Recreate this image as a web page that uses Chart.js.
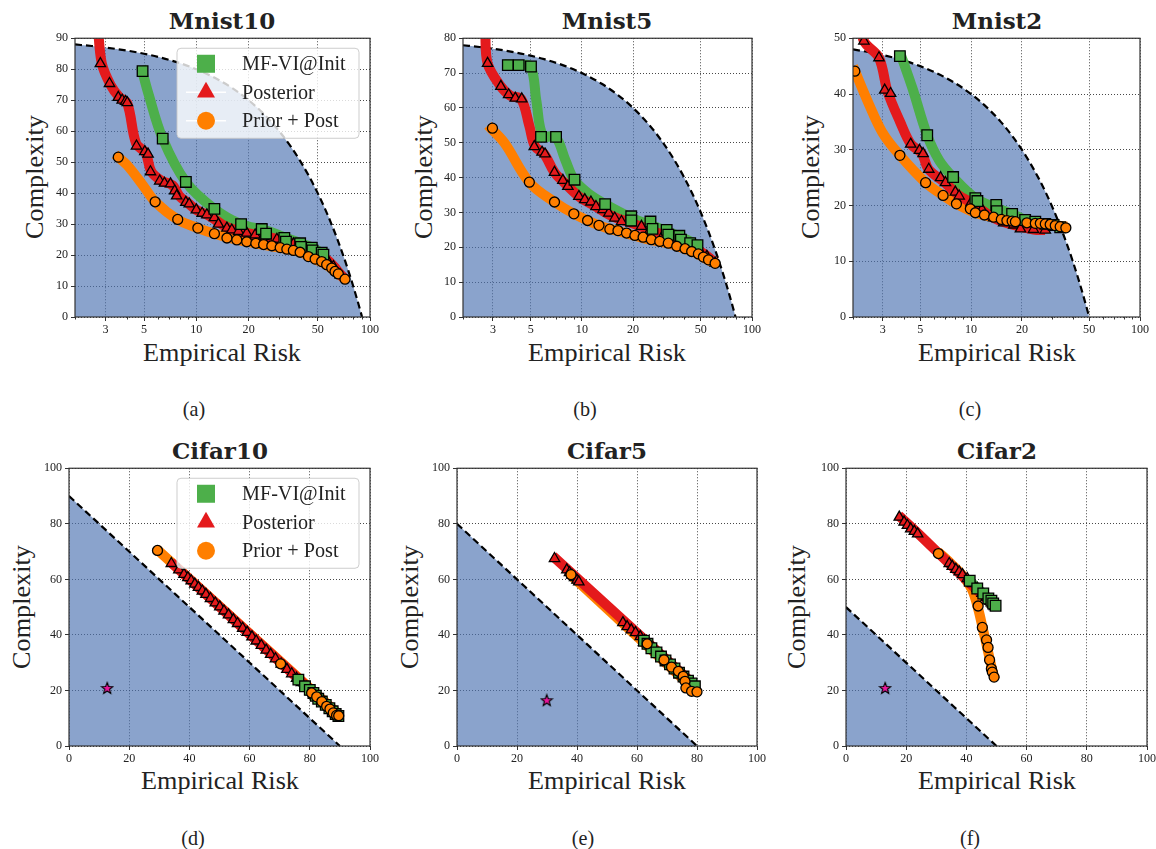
<!DOCTYPE html>
<html>
<head>
<meta charset="utf-8">
<script src="https://cdn.jsdelivr.net/npm/chart.js@4"></script>
<style>
  body { margin: 0; background: #fff; width: 1156px; height: 849px; position: relative; overflow: hidden;
         font-family: "Liberation Serif", "Times New Roman", Tinos, "Nimbus Roman", "DejaVu Serif", serif; color: #222; }
  canvas { position: absolute; }
  .t { position: absolute; white-space: nowrap; line-height: 1; transform: translate(-50%, -50%); }
  .title { font-family: "DejaVu Serif", serif; font-weight: bold; font-size: 23px; }
  .xl { font-size: 26px; }
  .yl { font-size: 26px; transform: translate(-50%, -50%) rotate(-90deg); }
  .cap { font-size: 20px; }
</style>
</head>
<body>
<div class="t title" style="left:222px;top:20px">Mnist10</div>
<div class="t title" style="left:607px;top:20px">Mnist5</div>
<div class="t title" style="left:997px;top:20px">Mnist2</div>
<div class="t title" style="left:220px;top:450px">Cifar10</div>
<div class="t title" style="left:607px;top:450px">Cifar5</div>
<div class="t title" style="left:997px;top:450px">Cifar2</div>

<div class="t xl" style="left:222px;top:353px">Empirical Risk</div>
<div class="t xl" style="left:607px;top:353px">Empirical Risk</div>
<div class="t xl" style="left:997px;top:353px">Empirical Risk</div>
<div class="t xl" style="left:220px;top:781px">Empirical Risk</div>
<div class="t xl" style="left:607px;top:781px">Empirical Risk</div>
<div class="t xl" style="left:997px;top:781px">Empirical Risk</div>

<div class="t yl" style="left:35px;top:177px">Complexity</div>
<div class="t yl" style="left:424px;top:177px">Complexity</div>
<div class="t yl" style="left:811px;top:177px">Complexity</div>
<div class="t yl" style="left:22px;top:607px">Complexity</div>
<div class="t yl" style="left:410px;top:607px">Complexity</div>
<div class="t yl" style="left:797px;top:607px">Complexity</div>

<div class="t cap" style="left:194px;top:409px">(a)</div>
<div class="t cap" style="left:585px;top:409px">(b)</div>
<div class="t cap" style="left:970px;top:409px">(c)</div>
<div class="t cap" style="left:193px;top:838px">(d)</div>
<div class="t cap" style="left:583px;top:838px">(e)</div>
<div class="t cap" style="left:970px;top:838px">(f)</div>

<script>
// ---- data: [empirical risk, complexity] ----
const logTicks = [3, 5, 10, 20, 50, 100];
const logMinorTicks = [2, 4, 6, 7, 8, 9, 30, 40, 60, 70, 80, 90];
const linTicks = [0, 20, 40, 60, 80, 100];
const legendLabels = ["MF-VI@Init", "Posterior", "Prior + Post"];

// Mnist10
const mnist10Frontier = [[2,88],[2.5,87.5],[3,87],[4,86],[5,85],[6,84],[8,82],[10,80],[13,77],[16,74],[20,70],[25,65],[30,60],[35,55],[40,50],[45,45],[50,40],[55,35],[60,30],[65,25],[70,20],[75,15],[80,10],[84,6],[87,3],[90,0]];
const mnist10Init = [[4.9,79.4],[6.4,57.6],[8.7,43.6],[12.7,34.9],[18.1,30.0],[23.8,28.4],[25.2,26.9],[32.1,25.5],[32.8,24.3],[39.6,23.8],[40.0,22.6],[46.2,22.4],[46.6,21.5],[52.7,20.8],[53.9,20.1]];
const mnist10Post = [[2.8,81.8],[3.16,75.4],[3.55,70.9],[3.74,70.0],[3.91,69.6],[4.0,69.2],[4.52,55.2],[5.05,53.4],[5.27,52.6],[5.44,46.9],[6.15,43.9],[6.55,43.2],[7.1,43.0],[7.5,40.7],[7.7,39.1],[8.7,37.0],[9.1,36.5],[10,34.6],[10.8,33.5],[11.5,33.0],[12.7,32.1],[13.4,30.0],[15.0,28.7],[16.0,28.1],[17.5,27.6],[19.5,27.1],[21.8,26.5],[24.4,26.0],[29.1,25.1],[36.2,23.6],[47.2,21.2],[56.3,18.7],[61.6,16.3],[67.3,13.6]];
const mnist10Prior = [[3.55,51.6],[5.79,37.2],[7.81,31.5],[10.2,28.7],[12.7,26.9],[15.0,25.5],[17.1,24.9],[19.5,24.3],[22.0,23.8],[24.4,23.4],[27.2,23.0],[30.4,22.4],[33.2,21.9],[36.2,21.5],[39.6,20.9],[44.2,19.5],[48.3,18.7],[52.7,17.9],[56.3,16.9],[60.2,15.8],[62.9,14.7],[65.7,13.9],[71.8,12.2]];
const mnist10InitBand = [[4.8,81],[5.3,72],[6.4,57.6],[8.7,43.6],[12.7,34.9],[18,30],[25,28],[32,25.8],[40,23.8],[47,22.3],[54,20.3]];
const mnist10PostBand = [[2.7,95],[2.85,82],[3.2,75],[3.6,71],[4.0,69],[4.5,56],[5.1,53],[5.5,47],[6.3,44],[7.3,42.5],[8,39],[9,36.7],[10,34.6],[12,32.5],[15,29],[20,27],[25,26],[30,25],[37,23.5],[47,21.2],[56,18.7],[62,16.3],[68,13.6],[71,12.5]];
const mnist10PriorBand = [[3.4,52.5],[4,49],[5,42],[5.8,37.2],[7.8,31.5],[10.2,28.7],[12.7,26.9],[17,25],[22,23.8],[30,22.4],[40,20.9],[48,18.7],[56,16.9],[63,14.7],[72,12.2]];

// Mnist5
const mnist5Frontier = [[2,78],[2.5,77.5],[3,77],[4,76],[5,75],[6,74],[8,72],[10,70],[13,67],[16,64],[20,60],[25,55],[30,50],[35,45],[40,40],[45,35],[50,30],[55,25],[60,20],[65,15],[70,10],[74,6],[77,3],[80,0]];
const mnist5Init = [[3.67,72.3],[4.25,72.3],[5.02,71.9],[5.75,51.7],[7.05,51.7],[9.05,39.4],[13.7,32.4],[19.5,28.9],[19.5,27.7],[25.3,27.4],[26.0,25.3],[31.5,25.0],[32.2,23.6],[37.4,23.3],[38.2,22.2],[43.3,21.2],[47.8,20.6]];
const mnist5Post = [[2.79,72.8],[3.34,66.2],[3.71,63.8],[4.06,62.8],[4.43,62.6],[5.25,48.9],[5.83,47.3],[6.07,46.8],[6.9,41.5],[7.73,39.2],[8.27,37.5],[9.6,34.6],[10.4,33.7],[11.3,33.0],[12.1,31.7],[13.3,30.8],[14.4,29.8],[15.6,28.4],[17.1,27.4],[19.5,27.0],[22.4,26.0],[25.1,24.9],[30.1,23.6],[36.1,22.2],[43.3,20.3],[49.5,18.8],[54.3,17.4],[60.7,15.5]];
const mnist5Prior = [[2.98,54.2],[4.91,38.7],[6.9,33.0],[8.97,29.6],[10.8,27.7],[12.6,26.3],[14.6,25.2],[16.3,24.8],[18.3,24.1],[20.5,23.4],[22.9,22.9],[25.6,22.2],[28.7,21.7],[32.2,21.2],[36.1,20.3],[40.4,19.6],[44.2,18.8],[48.4,18.1],[51.8,17.2],[55.5,16.4],[60.7,15.4]];
const mnist5InitBand = [[3.5,72.6],[4.3,72.3],[5.0,71.9],[5.4,62],[5.9,52],[7.0,51.7],[8,45],[9,39.4],[11,35.3],[13.7,32.4],[19.5,28.5],[25,26.5],[32,24.5],[38,23],[48,20.6]];
const mnist5PostBand = [[2.7,82],[2.79,72.8],[3.3,66.5],[3.8,63.5],[4.4,62.5],[4.9,55],[5.3,49],[6.0,46.8],[6.9,41.5],[7.9,38.5],[9.6,34.6],[12,31.8],[15,29],[20,26.8],[25,25],[30,23.6],[36,22.2],[43,20.3],[50,18.7],[55,17.3],[61,15.5]];
const mnist5PriorBand = [[2.8,55],[3.5,50],[4.9,38.7],[6.9,33],[9,29.6],[12.6,26.3],[18,24.1],[25,22.2],[32,21.2],[40,19.6],[48,18.1],[55,16.4],[61,15.4]];

// Mnist2
const mnist2Frontier = [[2,48],[2.5,47.5],[3,47],[4,46],[5,45],[6,44],[8,42],[10,40],[12,38],[15,35],[18,32],[21,29],[25,25],[28,22],[31,19],[34,16],[37,13],[40,10],[43,7],[46,4],[48,2],[50,0]];
const mnist2Init = [[3.79,46.8],[5.5,32.6],[7.83,25.1],[10.6,21.3],[10.9,20.8],[14.1,20.1],[14.2,19.0],[17.5,18.5],[20.9,17.4],[24.0,17.1],[27.5,16.7],[30.8,16.5],[33.7,16.1]];
const mnist2Post = [[2.32,49.5],[2.85,46.5],[3.08,40.7],[3.34,40.1],[4.39,31.0],[4.95,29.9],[5.2,29.3],[5.62,26.5],[6.6,25.0],[7.05,24.1],[8.07,22.4],[8.5,21.7],[10.0,20.5],[11.6,19.3],[13.6,17.8],[15.6,16.9],[17.9,16.5],[19.6,15.8],[23.4,15.7],[27.5,15.6]];
const mnist2Prior = [[2.05,44.1],[3.79,29.0],[5.38,24.1],[6.83,21.8],[8.19,20.3],[9.9,19.4],[10.6,18.7],[12.0,18.3],[13.6,17.9],[15.1,17.5],[16.3,17.3],[17.5,17.2],[18.3,17.1],[21.4,16.9],[24.0,16.8],[25.7,16.8],[27.5,16.7],[29.4,16.6],[31.5,16.4],[33.7,16.2],[36.4,16.0]];
const mnist2InitBand = [[3.79,47.5],[4.5,41],[5.5,32.6],[6.5,28],[7.8,25.1],[10.6,21.3],[14,19.6],[17.5,18.5],[21,17.4],[27,16.8],[33.7,16.1]];
const mnist2PostBand = [[2.2,54],[2.32,49.5],[2.85,46.5],[3.2,40.5],[3.8,35],[4.4,31],[5.1,29.4],[5.6,26.5],[7,24.1],[8.3,22],[10,20.5],[13.6,17.8],[17.9,16.5],[23.4,15.7],[27.5,15.6]];
const mnist2PriorBand = [[2.0,45],[2.5,38],[3.0,33],[3.79,29],[5.38,24.1],[6.83,21.8],[8.19,20.3],[10.6,18.7],[13.6,17.9],[18,17.1],[25,16.8],[31,16.5],[37,16.2]];

// Cifar10
const cifar10Frontier = [[0,90],[90,0]];
const cifar10Init = [[76.2,23.9],[78.4,21.5],[80.0,20.2],[81.2,19.1],[82.0,18.1],[82.8,17.0],[84.0,16.0],[85.3,14.8],[86.5,13.6],[87.6,12.5],[88.6,11.5],[89.5,10.8]];
const cifar10Post = [[34.0,65.7],[36.5,63.4],[38.2,61.8],[39.5,60.6],[40.6,59.5],[41.8,58.3],[43.0,57.1],[44.3,55.8],[45.5,54.6],[47.0,53.1],[48.6,51.5],[50.1,50.1],[51.5,48.6],[53.0,47.2],[54.6,45.5],[56.0,44.1],[57.7,42.4],[59.2,40.9],[60.8,39.3],[62.2,37.8],[63.9,36.2],[65.5,34.5],[67.0,33.0],[68.6,31.4],[70.5,29.5],[72.4,27.6],[74.0,26.0],[75.6,24.4],[77.2,22.8],[79.0,21.0],[80.5,19.6],[82.5,17.6],[84.5,15.6]];
const cifar10Prior = [[29.4,70.4],[70.3,29.6],[80.6,19.1],[82.3,17.7],[84.0,16.0],[85.6,14.3],[86.7,13.3],[87.8,11.9],[88.9,11.0],[89.6,10.9]];
const cifar10InitBand = [[76,24],[90,10.5]];
const cifar10PostBand = [[33.8,66.2],[85,15.5]];
const cifar10PriorBand = [[29,71],[90,11]];
const cifar10Star = [[12.7,20.9]];

// Cifar5
const cifar5Frontier = [[0,80],[80,0]];
const cifar5Init = [[62.3,37.9],[63.5,36.8],[64.8,35.2],[66.5,33.7],[68.0,32.2],[69.5,30.8],[71.0,29.4],[72.5,27.9],[74.0,26.4],[75.5,25.0],[77.0,23.5],[78.2,22.5],[79.3,21.5]];
const cifar5Post = [[32.5,67.5],[36.6,63.4],[37.5,62.4],[38.3,61.5],[39.2,60.6],[40.0,59.7],[40.6,59.1],[55.3,44.4],[56.7,43.0],[58.1,41.8],[59.5,40.8],[61.1,39.4],[62.5,38.0],[64.0,36.4],[65.5,35.0],[67.0,33.4],[68.5,32.0],[70.0,30.5],[71.5,29.0],[73.0,27.5],[74.5,26.0],[76.0,24.5],[77.5,23.0],[79.0,21.8]];
const cifar5Prior = [[38.0,61.7],[63.4,36.8],[69.0,31.0],[71.5,28.4],[73.8,26.9],[75.4,25.1],[76.0,23.3],[76.3,20.9],[78.2,19.7],[80.0,19.5]];
const cifar5InitBand = [[62,38.2],[79.5,21.3]];
const cifar5PostBand = [[32,68.3],[79.5,21.6]];
const cifar5PriorBand = [[37.5,62],[80.5,19]];
const cifar5Star = [[29.9,16.5]];

// Cifar2
const cifar2Frontier = [[0,50],[50,0]];
const cifar2Init = [[41.1,59.5],[43.6,56.7],[45.6,54.9],[47.3,53.1],[48.3,52.3],[48.9,51.3],[49.7,50.5]];
const cifar2Post = [[17.7,82.4],[19.3,80.6],[20.4,79.4],[21.5,78.2],[22.7,77.3],[23.8,76.4],[34.3,65.7],[35.3,64.7],[36.5,63.6],[37.6,62.7],[38.7,61.7],[40.3,60.3],[42.0,58.5],[43.6,56.8],[45.2,55.0],[46.6,53.5],[47.8,52.2],[48.7,51.0],[49.3,50.2]];
const cifar2Prior = [[30.7,69.3],[43.9,50.4],[45.3,42.7],[46.7,38.2],[47.2,35.5],[47.7,31.0],[48.3,27.8],[48.6,26.6],[49.2,24.8]];
const cifar2InitBand = [[41,59.5],[49.8,50.5]];
const cifar2PostBand = [[17.5,83],[24,76.5],[34,66],[49.5,50]];
const cifar2PriorBand = [[30.5,70],[35,65.5],[39,61],[42,56],[44,49],[45.5,42],[46.8,36],[47.8,31],[48.7,27],[49.5,24]];
const cifar2Star = [[13.0,20.9]];

// ---- styling ----
const GREEN = "#4daf4a", RED = "#e41a1c", ORANGE = "#ff7f00";
const FILL = "rgba(76,114,176,0.65)";
const SERIF = '"Liberation Serif", "Times New Roman", Tinos, "Nimbus Roman", "DejaVu Serif", serif';

// size the serif text so "Empirical Risk" is as wide as in the figure (~158px),
// whichever serif face the system actually resolves
const meas = document.createElement("canvas").getContext("2d");
meas.font = "100px " + SERIF;
const K = 158 / (meas.measureText("Empirical Risk").width * 0.26);
document.querySelectorAll(".xl, .yl").forEach(e => { e.style.fontSize = (26 * K) + "px"; });
document.querySelectorAll(".cap").forEach(e => { e.style.fontSize = (20 * K) + "px"; });

const starImg = (() => {
  const c = document.createElement("canvas");
  c.width = c.height = 14;
  const g = c.getContext("2d");
  g.beginPath();
  for (let i = 0; i < 10; i++) {
    const r = i % 2 ? 2.5 : 6;
    const a = -Math.PI / 2 + i * Math.PI / 5;
    g.lineTo(7 + r * Math.cos(a), 7.5 + r * Math.sin(a));
  }
  g.closePath();
  g.fillStyle = "#e8179b";
  g.fill();
  g.lineWidth = 1.1;
  g.strokeStyle = "#000";
  g.stroke();
  return c;
})();

// frame (all four spines) + minor log ticks
const framePlugin = {
  id: "frame",
  afterDatasetsDraw(chart, args, opts) {
    const { ctx, chartArea: a, scales } = chart;
    ctx.save();
    ctx.strokeStyle = "#333";
    ctx.lineWidth = 1;
    (opts.minor || []).forEach(v => {
      const px = Math.round(scales.x.getPixelForValue(v)) + 0.5;
      ctx.beginPath();
      ctx.moveTo(px, a.bottom);
      ctx.lineTo(px, a.bottom + 2.5);
      ctx.stroke();
    });
    ctx.lineWidth = 1.2;
    ctx.strokeRect(a.left, a.top, a.right - a.left, a.bottom - a.top);
    ctx.restore();
  }
};

function drawShape(ctx, shape, x, y, s) {
  ctx.beginPath();
  if (shape === "rect") ctx.rect(x - s / 2, y - s / 2, s, s);
  else if (shape === "tri") {
    ctx.moveTo(x, y - s * 0.58);
    ctx.lineTo(x + s / 2, y + s * 0.29);
    ctx.lineTo(x - s / 2, y + s * 0.29);
    ctx.closePath();
  } else ctx.arc(x, y, s / 2, 0, Math.PI * 2);
  ctx.fill();
}

const legendPlugin = {
  id: "boxLegend",
  afterDraw(chart, args, opts) {
    if (!opts.show) return;
    const { ctx, chartArea: a } = chart;
    const w = 182, h = 90;
    const x0 = a.right - 11 - w, y0 = a.top + 10;
    ctx.save();
    ctx.beginPath();
    ctx.roundRect(x0, y0, w, h, 4);
    ctx.fillStyle = "rgba(255,255,255,0.8)";
    ctx.fill();
    ctx.strokeStyle = "rgba(200,200,200,0.9)";
    ctx.lineWidth = 1;
    ctx.stroke();
    const colors = [GREEN, RED, ORANGE], shapes = ["rect", "tri", "circ"];
    legendLabels.forEach((text, i) => {
      const cy = y0 + 15.5 + i * 28.5, cx = x0 + 29;
      if (opts.lines && i > 0) {
        ctx.strokeStyle = "#fff";
        ctx.lineWidth = 1.5;
        ctx.beginPath();
        ctx.moveTo(cx - 20, cy);
        ctx.lineTo(cx + 20, cy);
        ctx.stroke();
      }
      ctx.fillStyle = colors[i];
      drawShape(ctx, shapes[i], cx, cy, 18);
      ctx.fillStyle = "#222";
      ctx.font = (20 * K) + "px " + SERIF;
      ctx.textBaseline = "middle";
      ctx.fillText(text, x0 + 65, cy + 1);
    });
    ctx.restore();
  }
};

const pts = a => a.map(([x, y]) => ({ x, y }));
const band = (d, c, o) => ({
  type: "line", data: pts(d), showLine: true, borderColor: c, borderWidth: 10,
  pointRadius: 0, tension: 0.35, borderCapStyle: "butt", borderJoinStyle: "round", clip: 0, order: o
});
const marks = (d, c, style, r, o) => ({
  data: pts(d), showLine: false, pointStyle: style, pointRadius: r,
  pointBackgroundColor: c, pointBorderColor: "#000", pointBorderWidth: 1.3, clip: 0, order: o
});

function panel(p) {
  const [l, t, r, b] = p.box;
  const W = r - l + 60, H = b - t + 34;
  const cv = document.createElement("canvas");
  cv.width = W; cv.height = H;
  cv.style.left = (l - 40) + "px";
  cv.style.top = (t - 10) + "px";
  document.body.appendChild(cv);

  const datasets = [
    {
      type: "line", data: pts(p.frontier), showLine: true, borderColor: "#000", borderWidth: 2.2,
      borderDash: [7, 4], pointRadius: 0, fill: "origin", backgroundColor: FILL,
      cubicInterpolationMode: "monotone", clip: 0, order: 20
    },
    band(p.initBand, GREEN, 15),
    band(p.priorBand, ORANGE, 14),
    band(p.postBand, RED, 13),
    marks(p.post, RED, "triangle", 6, 12),
    marks(p.init, GREEN, "rect", 7.5, 11),
    marks(p.prior, ORANGE, "circle", 5, 10)
  ];
  if (p.star) datasets.push({ data: pts(p.star), showLine: false, pointStyle: starImg, pointRadius: 7, clip: 0, order: 5 });

  const tickFont = { family: SERIF, size: 12 * K };
  const xScale = p.log
    ? {
        type: "logarithmic", min: 2, max: 100,
        afterBuildTicks: s => { s.ticks = logTicks.map(v => ({ value: v })); },
        ticks: { callback: v => String(v), font: tickFont, color: "#222", padding: 2, maxRotation: 0, autoSkip: false }
      }
    : {
        type: "linear", min: 0, max: 100,
        afterBuildTicks: s => { s.ticks = linTicks.map(v => ({ value: v })); },
        ticks: { font: tickFont, color: "#222", padding: 2, maxRotation: 0 }
      };
  Object.assign(xScale, {
    afterFit: s => { s.height = 24; },
    grid: { color: "rgba(0,0,0,0.9)", lineWidth: 0.8, tickLength: 4, tickColor: "#333", tickWidth: 1, tickBorderDash: [] },
    border: { display: false, dash: [1, 2] }
  });

  new Chart(cv, {
    type: "scatter",
    data: { datasets },
    options: {
      responsive: false, animation: false, devicePixelRatio: 1,
      layout: { padding: { left: 0, top: 10, right: 20, bottom: 0 } },
      scales: {
        x: xScale,
        y: {
          type: "linear", min: 0, max: p.yMax,
          ticks: { stepSize: p.yStep, font: tickFont, color: "#222", padding: 3 },
          afterFit: s => { s.width = 40; },
          grid: { color: "rgba(0,0,0,0.9)", lineWidth: 0.8, tickLength: 4, tickColor: "#333", tickWidth: 1, tickBorderDash: [] },
          border: { display: false, dash: [1, 2] }
        }
      },
      plugins: {
        legend: { display: false },
        tooltip: { enabled: false },
        frame: { minor: p.log ? logMinorTicks : [] },
        boxLegend: { show: !!p.legend, lines: p.log }
      }
    },
    plugins: [framePlugin, legendPlugin]
  });
}

panel({ box: [75, 38, 370, 317], log: true, yMax: 90, yStep: 10, legend: true,
  frontier: mnist10Frontier, init: mnist10Init, post: mnist10Post, prior: mnist10Prior,
  initBand: mnist10InitBand, postBand: mnist10PostBand, priorBand: mnist10PriorBand });
panel({ box: [463, 38, 752, 317], log: true, yMax: 80, yStep: 10,
  frontier: mnist5Frontier, init: mnist5Init, post: mnist5Post, prior: mnist5Prior,
  initBand: mnist5InitBand, postBand: mnist5PostBand, priorBand: mnist5PriorBand });
panel({ box: [853, 38, 1140, 317], log: true, yMax: 50, yStep: 10,
  frontier: mnist2Frontier, init: mnist2Init, post: mnist2Post, prior: mnist2Prior,
  initBand: mnist2InitBand, postBand: mnist2PostBand, priorBand: mnist2PriorBand });
panel({ box: [69, 468, 370, 746], log: false, yMax: 100, yStep: 20, legend: true,
  frontier: cifar10Frontier, init: cifar10Init, post: cifar10Post, prior: cifar10Prior,
  initBand: cifar10InitBand, postBand: cifar10PostBand, priorBand: cifar10PriorBand, star: cifar10Star });
panel({ box: [457, 468, 757, 746], log: false, yMax: 100, yStep: 20,
  frontier: cifar5Frontier, init: cifar5Init, post: cifar5Post, prior: cifar5Prior,
  initBand: cifar5InitBand, postBand: cifar5PostBand, priorBand: cifar5PriorBand, star: cifar5Star });
panel({ box: [846, 468, 1147, 746], log: false, yMax: 100, yStep: 20,
  frontier: cifar2Frontier, init: cifar2Init, post: cifar2Post, prior: cifar2Prior,
  initBand: cifar2InitBand, postBand: cifar2PostBand, priorBand: cifar2PriorBand, star: cifar2Star });
</script>
</body>
</html>
